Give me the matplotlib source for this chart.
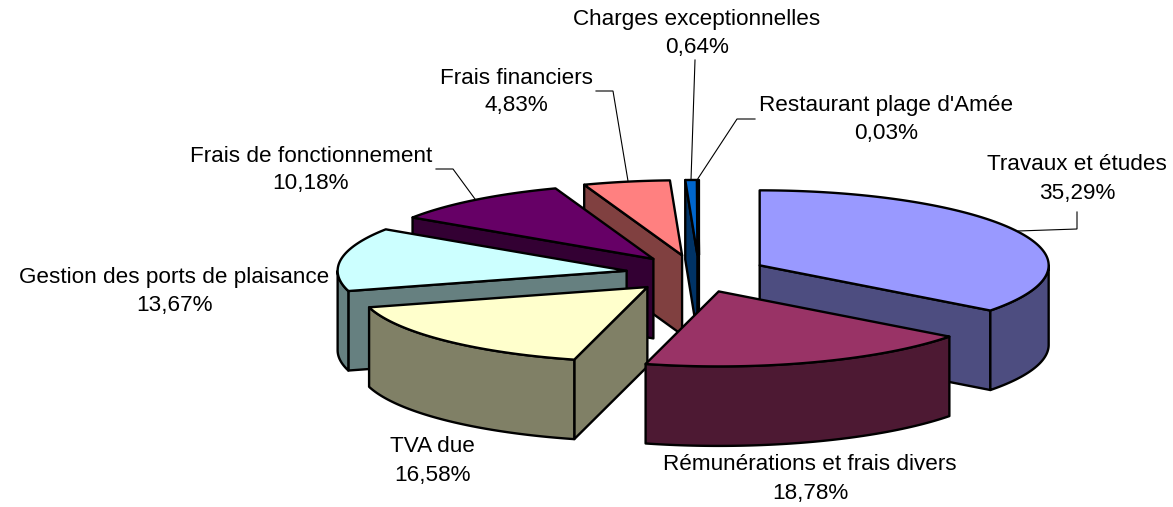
import numpy as np
import matplotlib
matplotlib.use("Agg")
import matplotlib.pyplot as plt
from matplotlib.patches import Polygon

categories = ["Travaux et études", "Rémunérations et frais divers", "TVA due",
              "Gestion des ports de plaisance", "Frais de fonctionnement",
              "Frais financiers", "Charges exceptionnelles", "Restaurant plage d'Amée"]
values = [35.29, 18.78, 16.58, 13.67, 10.18, 4.83, 0.64, 0.03]
value_labels = ["35,29%", "18,78%", "16,58%", "13,67%", "10,18%", "4,83%", "0,64%", "0,03%"]
top_colors = ["#9999FF", "#993366", "#FFFFCC", "#CCFFFF", "#660066", "#FF8080", "#0066CC", "#CCCCFF"]
side_colors = ["#4D4D80", "#4D1933", "#808066", "#668080", "#330033", "#804040", "#003366", "#666680"]
label_pos = [(1077, 165), (810, 465), (432, 447), (174, 278), (311, 156), (516, 78), (697, 19), (886, 106)]
leaders = {
    0: [(1077, 212), (1077, 229), (1018, 231)],
    4: [(436, 169), (453, 169), (475, 199)],
    5: [(596, 91), (613, 91), (628, 181)],
    6: [(695, 60), (691, 180)],
    7: [(755, 119), (737, 119), (697, 180)],
}

W, H = 1173, 507
CX, CY, RX, RY, DEPTH, EXPLODE = 695.0, 273.7, 289.0, 75.0, 79.5, 0.25
LW = 1.7
FS = 16.2
LINE_GAP = 28
nudge = [0, 0, 3, 3, 3, 1, 4, 4]

fig = plt.figure(figsize=(W / 100, H / 100), dpi=100)
ax = fig.add_axes([0, 0, 1, 1])
ax.set_xlim(0, W)
ax.set_ylim(H, 0)
ax.axis("off")
plt.rcParams["font.family"] = ["Liberation Sans", "DejaVu Sans"]

bounds = np.concatenate([[0], np.cumsum(values)]) / sum(values) * 360.0


def pt(ax0, ay0, deg):
    t = np.radians(deg)
    return ax0 + RX * np.sin(t), ay0 - RY * np.cos(t)


def face(points, color, z):
    ax.add_patch(Polygon(points, closed=True, facecolor=color, edgecolor="black",
                         linewidth=LW, joinstyle="round", zorder=z))


slices = []
for i, v in enumerate(values):
    a, b = bounds[i], bounds[i + 1]
    mid = np.radians((a + b) / 2)
    ox = CX + EXPLODE * RX * np.sin(mid) + nudge[i]
    oy = CY - EXPLODE * RY * np.cos(mid)
    slices.append((oy, i, a, b, ox))

# back to front by apex height
for order, (oy, i, a, b, ox) in enumerate(sorted(slices, key=lambda s: s[0])):
    z = 2 + order
    # cut faces turned towards the viewer
    if np.sin(np.radians(a)) < -1e-6:
        p = pt(ox, oy, a)
        face([(ox, oy), p, (p[0], p[1] + DEPTH), (ox, oy + DEPTH)], side_colors[i], z)
    if np.sin(np.radians(b)) > 1e-6:
        p = pt(ox, oy, b)
        face([(ox, oy), p, (p[0], p[1] + DEPTH), (ox, oy + DEPTH)], side_colors[i], z)
    # outer wall: front half of the rim
    lo, hi = max(a, 90), min(b, 270)
    if hi > lo:
        arc = np.linspace(lo, hi, 80)
        upper = [pt(ox, oy, d) for d in arc]
        lower = [(x, y + DEPTH) for x, y in upper[::-1]]
        face(upper + lower, side_colors[i], z)
    # top surface
    arc = np.linspace(a, b, max(3, int(b - a) * 2))
    face([(ox, oy)] + [pt(ox, oy, d) for d in arc], top_colors[i], z)

for i, pts in leaders.items():
    xs, ys = zip(*pts)
    ax.plot(xs, ys, color="black", lw=0.8, zorder=20, solid_joinstyle="miter")

for cat, lab, (x, y) in zip(categories, value_labels, label_pos):
    for txt, yy in ((cat, y), (lab, y + LINE_GAP)):
        ax.text(x, yy, txt, ha="center", va="center", fontsize=FS, color="black",
                family="Liberation Sans", zorder=30)

fig.savefig("out.png", dpi=100, facecolor="white")
